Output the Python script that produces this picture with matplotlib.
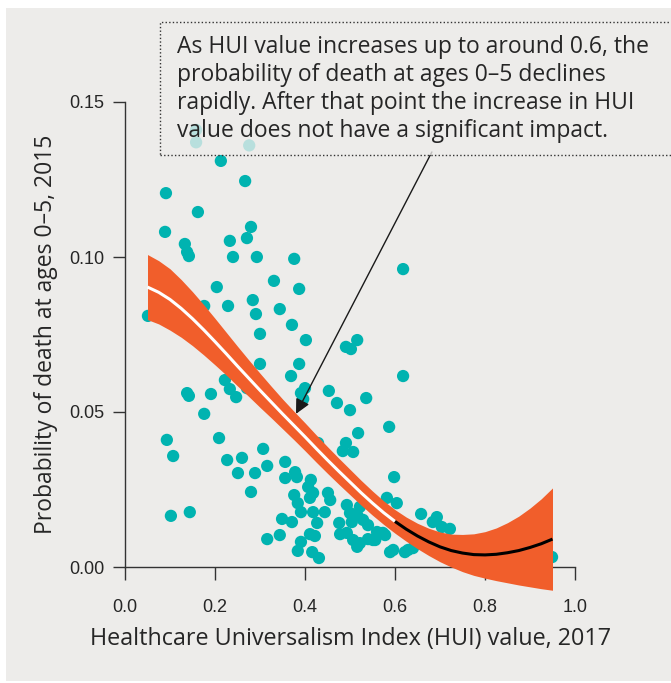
import matplotlib
matplotlib.use("Agg")
import matplotlib.pyplot as plt
from matplotlib.patches import Rectangle

# HUI value (2017) vs probability of death at ages 0-5 (2015), one point per country
hui = [0.158, 0.158, 0.276, 0.213, 0.267, 0.091, 0.162, 0.089, 0.280, 0.271,
       0.233, 0.133, 0.138, 0.142, 0.240, 0.293, 0.376, 0.331, 0.387, 0.204,
       0.284, 0.229, 0.176, 0.344, 0.291, 0.051, 0.371, 0.300, 0.402, 0.618,
       0.516, 0.491, 0.502, 0.300, 0.387, 0.369, 0.618, 0.222, 0.233, 0.247,
       0.271, 0.138, 0.142, 0.191, 0.176, 0.391, 0.400, 0.396, 0.453, 0.471,
       0.500, 0.536, 0.587, 0.518, 0.491, 0.484, 0.507, 0.429, 0.093, 0.107,
       0.209, 0.227, 0.260, 0.307, 0.316, 0.251, 0.289, 0.280, 0.102, 0.144,
       0.356, 0.378, 0.382, 0.356, 0.413, 0.407, 0.418, 0.411, 0.376, 0.384,
       0.391, 0.451, 0.456, 0.444, 0.349, 0.371, 0.427, 0.418, 0.316, 0.344,
       0.391, 0.384, 0.411, 0.422, 0.416, 0.431, 0.476, 0.478, 0.493, 0.500,
       0.516, 0.522, 0.504, 0.529, 0.540, 0.493, 0.507, 0.522, 0.540, 0.551,
       0.560, 0.573, 0.556, 0.582, 0.604, 0.598, 0.658, 0.693, 0.684, 0.704,
       0.722, 0.589, 0.596, 0.622, 0.629, 0.640, 0.949, 0.578, 0.516]
death = [0.141, 0.137, 0.136, 0.1310, 0.1245, 0.1206, 0.1145, 0.1081, 0.1097, 0.1061,
         0.1052, 0.1042, 0.1016, 0.1003, 0.1000, 0.1000, 0.0994, 0.0923, 0.0897, 0.0903,
         0.0861, 0.0842, 0.0842, 0.0832, 0.0816, 0.0810, 0.0781, 0.0752, 0.0732, 0.0961,
         0.0732, 0.0710, 0.0703, 0.0655, 0.0655, 0.0616, 0.0616, 0.0603, 0.0574, 0.0548,
         0.0577, 0.0561, 0.0552, 0.0558, 0.0494, 0.0561, 0.0577, 0.0542, 0.0568, 0.0529,
         0.0506, 0.0545, 0.0452, 0.0432, 0.0400, 0.0374, 0.0371, 0.0400, 0.0410, 0.0358,
         0.0416, 0.0345, 0.0352, 0.0381, 0.0326, 0.0303, 0.0303, 0.0242, 0.0165, 0.0177,
         0.0339, 0.0306, 0.0290, 0.0287, 0.0281, 0.0258, 0.0239, 0.0223, 0.0232, 0.0206,
         0.0177, 0.0239, 0.0216, 0.0177, 0.0155, 0.0145, 0.0142, 0.0177, 0.0090, 0.0103,
         0.0081, 0.0052, 0.0106, 0.0100, 0.0048, 0.0029, 0.0142, 0.0106, 0.0200, 0.0174,
         0.0168, 0.0194, 0.0145, 0.0152, 0.0135, 0.0110, 0.0087, 0.0077, 0.0090, 0.0087,
         0.0113, 0.0110, 0.0087, 0.0223, 0.0206, 0.0290, 0.0171, 0.0161, 0.0145, 0.0129,
         0.0123, 0.0048, 0.0055, 0.0048, 0.0055, 0.0061, 0.0032, 0.0103, 0.0065]

# fitted curve and its confidence band
fit_x = [0.050, 0.075, 0.100, 0.125, 0.150, 0.175, 0.200, 0.225, 0.250, 0.275,
         0.300, 0.325, 0.350, 0.375, 0.400, 0.425, 0.450, 0.475, 0.500, 0.525,
         0.550, 0.575, 0.600, 0.625, 0.650, 0.675, 0.700, 0.725, 0.750, 0.775,
         0.800, 0.825, 0.850, 0.875, 0.900, 0.925, 0.950]
fit_y = [0.0903, 0.0886, 0.0863, 0.0834, 0.0801, 0.0765, 0.0727, 0.0688, 0.0648, 0.0609,
         0.0570, 0.0532, 0.0494, 0.0457, 0.0420, 0.0382, 0.0345, 0.0309, 0.0274, 0.0239,
         0.0206, 0.0175, 0.0147, 0.0122, 0.0100, 0.0081, 0.0065, 0.0053, 0.0045, 0.0040,
         0.0039, 0.0041, 0.0046, 0.0053, 0.0063, 0.0075, 0.0090]
fit_lo = [0.0798, 0.0784, 0.0764, 0.0741, 0.0714, 0.0684, 0.0652, 0.0619, 0.0584, 0.0550,
          0.0515, 0.0481, 0.0446, 0.0411, 0.0375, 0.0338, 0.0302, 0.0267, 0.0233, 0.0199,
          0.0167, 0.0137, 0.0109, 0.0083, 0.0059, 0.0037, 0.0017, 0.0000, -0.0015, -0.0027,
          -0.0036, -0.0044, -0.0051, -0.0058, -0.0064, -0.0070, -0.0075]
fit_hi = [0.1008, 0.0988, 0.0962, 0.0927, 0.0888, 0.0846, 0.0802, 0.0757, 0.0712, 0.0668,
          0.0625, 0.0583, 0.0542, 0.0503, 0.0465, 0.0426, 0.0388, 0.0351, 0.0315, 0.0279,
          0.0245, 0.0213, 0.0185, 0.0161, 0.0141, 0.0125, 0.0113, 0.0106, 0.0105, 0.0107,
          0.0114, 0.0126, 0.0143, 0.0164, 0.0190, 0.0220, 0.0255]
split = 0.600

xticks = [0.0, 0.2, 0.4, 0.6, 0.8, 1.0]
yticks = [0.00, 0.05, 0.10, 0.15]

note = ("As HUI value increases up to around 0.6, the\n"
        "probability of death at ages 0\u20135 declines\n"
        "rapidly. After that point the increase in HUI\n"
        "value does not have a significant impact.")

bg = "#edecea"
teal = "#00b3b0"
orange = "#f15e2b"
ink = "#333333"
text_col = "#262626"
body_font = ["Open Sans", "DejaVu Sans"]
tick_font = ["Liberation Sans", "DejaVu Sans"]

W, H = 671, 683
fig = plt.figure(figsize=(W / 100, H / 100), dpi=100, facecolor="white")
fig.patches.append(Rectangle((6 / W, 2 / H), 1, 1 - 10 / H, transform=fig.transFigure,
                             facecolor=bg, edgecolor="none", zorder=-5))

ax = fig.add_axes([125 / W, 1 - 567 / H, 450 / W, 465 / H])
ax.set_facecolor("none")
ax.set_xlim(0, 1)
ax.set_ylim(0, 0.15)

ax.scatter(hui, death, s=78, color=teal, edgecolors="none", zorder=2, clip_on=False)
ax.fill_between(fit_x, fit_lo, fit_hi, color=orange, lw=0, zorder=3, clip_on=False)
k = fit_x.index(split) + 1
ax.plot(fit_x[:k], fit_y[:k], color="white", lw=2.2, zorder=4, solid_capstyle="butt")
ax.plot(fit_x[k - 1:], fit_y[k - 1:], color="black", lw=2.2, zorder=4,
        solid_capstyle="butt", clip_on=False)

for side in ("top", "right"):
    ax.spines[side].set_visible(False)
for side in ("left", "bottom"):
    ax.spines[side].set_color(ink)
    ax.spines[side].set_linewidth(1)

ax.set_xticks(xticks)
ax.set_xticklabels([f"{v:.1f}" for v in xticks], family=tick_font, fontsize=13)
ax.set_yticks(yticks)
ax.set_yticklabels([f"{v:.2f}" for v in yticks], family=tick_font, fontsize=13)
ax.tick_params(axis="x", direction="out", length=9, width=1, color=ink,
               labelcolor=text_col, pad=14)
ax.tick_params(axis="y", direction="out", length=9, width=1, color=ink,
               labelcolor=text_col, pad=6)

ax.set_xlabel("Healthcare Universalism Index (HUI) value, 2017", family=body_font,
              fontsize=16.8, color=text_col)
ax.xaxis.set_label_coords(0.5, -(627 - 567) / 465)
ax.set_ylabel("Probability of death at ages 0\u20135, 2015", family=body_font,
              fontsize=16.5, color=text_col)
ax.yaxis.set_label_coords(-(125 - 58) / 450, 0.5)

# annotation box sits over the upper points, so they show through faintly
fig.patches.append(Rectangle((160 / W, 1 - 155 / H), 600 / W, 133 / H,
                             transform=fig.transFigure, facecolor=bg, alpha=0.78,
                             edgecolor="none", zorder=5))
fig.patches.append(Rectangle((160 / W, 1 - 155 / H), 600 / W, 133 / H,
                             transform=fig.transFigure, facecolor="none",
                             edgecolor=ink, lw=1, ls=(0, (1, 1.6)), zorder=6))
fig.text(177 / W, 1 - 35 / H, note, family=body_font, fontsize=16.5, color=text_col,
         va="top", ha="left", linespacing=1.23, zorder=7)

ax.annotate("", xy=(0.38, 0.0494), xytext=(0.682, 0.1339),
            arrowprops=dict(arrowstyle="-|>", color="#1a1a1a", lw=1,
                            mutation_scale=22, shrinkA=0, shrinkB=0),
            annotation_clip=False, zorder=8)

fig.savefig("out.png", dpi=100, facecolor="white")
